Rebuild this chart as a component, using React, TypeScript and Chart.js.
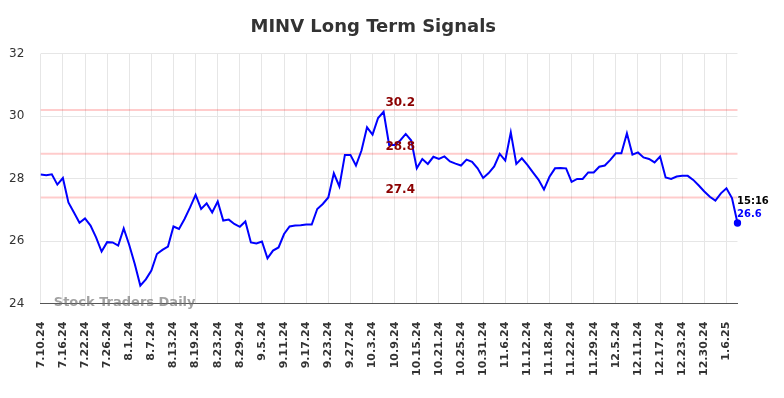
import React, { useEffect, useRef } from 'react';
import { Chart, registerables } from 'chart.js';

Chart.register(...registerables);

const TITLE = 'MINV Long Term Signals';

const TICK_LABELS = [
  '7.10.24', '7.16.24', '7.22.24', '7.26.24', '8.1.24', '8.7.24', '8.13.24', '8.19.24',
  '8.23.24', '8.29.24', '9.5.24', '9.11.24', '9.17.24', '9.23.24', '9.27.24', '10.3.24',
  '10.9.24', '10.15.24', '10.21.24', '10.25.24', '10.31.24', '11.6.24', '11.12.24', '11.18.24',
  '11.22.24', '11.29.24', '12.5.24', '12.11.24', '12.17.24', '12.23.24', '12.30.24', '1.6.25',
];

const VALUES = [
  28.13, 28.11, 28.14, 27.81, 28.02, 27.24, 26.92, 26.59, 26.73, 26.5,
  26.12, 25.67, 25.97, 25.96, 25.86, 26.41, 25.88, 25.27, 24.58, 24.78,
  25.06, 25.59, 25.72, 25.83, 26.47, 26.39, 26.71, 27.08, 27.48, 27.03,
  27.21, 26.92, 27.27, 26.66, 26.69, 26.55, 26.46, 26.63, 25.96, 25.93,
  25.99, 25.45, 25.7, 25.8, 26.23, 26.47, 26.5, 26.51, 26.53, 26.53,
  27.03, 27.19, 27.4, 28.17, 27.75, 28.76, 28.76, 28.42, 28.9, 29.64,
  29.41, 29.94, 30.14, 29.08, 29.08, 29.22, 29.43, 29.22, 28.33, 28.63,
  28.47, 28.7, 28.63, 28.71, 28.55, 28.48, 28.42, 28.61, 28.54, 28.33,
  28.02, 28.18, 28.39, 28.79, 28.58, 29.48, 28.47, 28.65, 28.44, 28.2,
  27.97, 27.65, 28.06, 28.33, 28.34, 28.33, 27.9, 27.99, 27.99, 28.2,
  28.2, 28.38, 28.42, 28.6, 28.81, 28.81, 29.45, 28.77, 28.84, 28.68,
  28.63, 28.52, 28.71, 28.04, 27.99, 28.07, 28.09, 28.09, 27.96, 27.78,
  27.59, 27.42, 27.3, 27.53, 27.69, 27.38, 26.58,
];

const SIGNAL_LEVELS = [30.2, 28.8, 27.4];
const SIGNAL_LABEL_INDEX = 65;
const LAST_TIME = '15:16';
const WATERMARK = 'Stock Traders Daily';
const TICK_EVERY = 4;

const FONT = "'DejaVu Sans', sans-serif";

export default function App() {
  const ref = useRef<HTMLCanvasElement | null>(null);

  useEffect(() => {
    if (!ref.current) return;
    const labels = VALUES.map((_, i) =>
      i % TICK_EVERY === 0 ? TICK_LABELS[i / TICK_EVERY] ?? '' : ''
    );
    const lastIndex = VALUES.length - 1;

    const overlay = {
      id: 'overlay',
      beforeDatasetsDraw(chart: any) {
        const { ctx, chartArea, scales } = chart;
        ctx.save();
        ctx.strokeStyle = 'rgba(255, 0, 0, 0.2)';
        ctx.lineWidth = 2;
        SIGNAL_LEVELS.forEach((v) => {
          const py = scales.y.getPixelForValue(v);
          ctx.beginPath();
          ctx.moveTo(chartArea.left, py);
          ctx.lineTo(chartArea.right, py);
          ctx.stroke();
        });
        ctx.restore();
      },
      afterDatasetsDraw(chart: any) {
        const { ctx, chartArea, scales } = chart;
        ctx.save();
        ctx.font = `bold 12px ${FONT}`;
        ctx.fillStyle = '#8b0000';
        ctx.textAlign = 'center';
        ctx.textBaseline = 'alphabetic';
        const lx = scales.x.getPixelForValue(SIGNAL_LABEL_INDEX);
        SIGNAL_LEVELS.forEach((v) => {
          const py = scales.y.getPixelForValue(v);
          ctx.fillText(v.toFixed(1), lx, py - 4);
        });
        const px = scales.x.getPixelForValue(lastIndex);
        const py = scales.y.getPixelForValue(VALUES[lastIndex]);
        ctx.textAlign = 'left';
        ctx.font = `bold 10px ${FONT}`;
        ctx.fillStyle = '#000';
        ctx.fillText(LAST_TIME, px - 0.5, py - 19);
        ctx.fillStyle = '#0000ff';
        ctx.fillText(VALUES[lastIndex].toFixed(1), px - 0.5, py - 6.5);
        ctx.font = `bold 13px ${FONT}`;
        ctx.fillStyle = 'rgba(110, 110, 110, 0.65)';
        ctx.fillText(WATERMARK, chartArea.left + 13, chartArea.bottom + 2.5);
        ctx.restore();
      },
    };

    const chart = new Chart(ref.current, {
      type: 'line',
      data: {
        labels,
        datasets: [
          {
            data: VALUES,
            borderColor: '#0000ff',
            backgroundColor: '#0000ff',
            borderWidth: 2,
            tension: 0,
            pointRadius: (c: any) => (c.dataIndex === lastIndex ? 3.7 : 0),
            pointBackgroundColor: '#0000ff',
            pointBorderWidth: 0,
            fill: false,
          },
        ],
      },
      options: {
        animation: false,
        responsive: true,
        maintainAspectRatio: false,
        layout: { padding: { left: 1, right: 38.5, top: 0, bottom: 14 } },
        plugins: {
          legend: { display: false },
          tooltip: { enabled: false },
          title: {
            display: true,
            text: TITLE,
            color: '#333333',
            font: { family: FONT, size: 18, weight: 'bold' },
            padding: { top: 9, bottom: 15 },
          },
        },
        scales: {
          x: {
            type: 'category',
            grid: {
              color: (c: any) => (c.index % TICK_EVERY === 0 ? '#e6e6e6' : 'rgba(0,0,0,0)'),
              drawTicks: false,
              lineWidth: 1,
            },
            border: { display: true, color: '#555555', width: 1 },
            ticks: {
              autoSkip: false,
              minRotation: 90,
              maxRotation: 90,
              padding: 18,
              color: '#333333',
              font: { family: FONT, size: 11, weight: 'bold' },
            },
            afterFit: (s: any) => {
              s.height -= s.options.ticks.padding;
            },
          },
          y: {
            min: 24,
            max: 32,
            grid: { color: '#e6e6e6', drawTicks: false, lineWidth: 1 },
            border: { display: false },
            ticks: {
              stepSize: 2,
              padding: 16.5,
              color: '#333333',
              font: { family: FONT, size: 12 },
            },
            afterFit: (s: any) => {
              s.width -= s.options.ticks.padding;
            },
          },
        },
      },
      plugins: [overlay],
    });

    return () => chart.destroy();
  }, []);

  return (
    <div style={{ width: 768, height: 382 }}>
      <canvas ref={ref} />
    </div>
  );
}
